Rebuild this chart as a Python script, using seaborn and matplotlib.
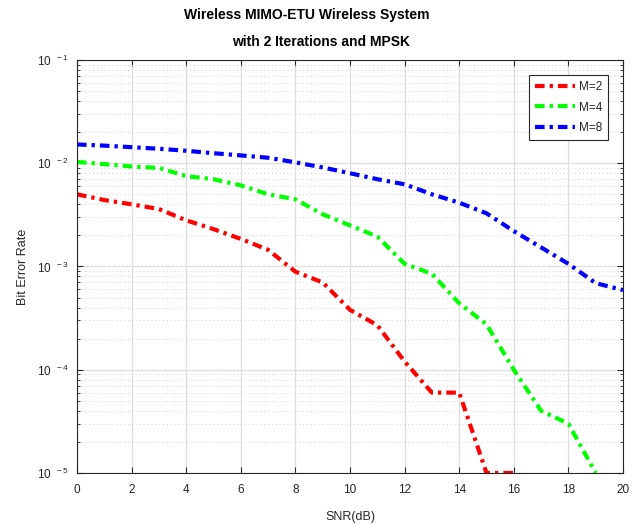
import numpy as np
import pandas as pd
import seaborn as sns
import matplotlib
matplotlib.use("Agg")
import matplotlib.pyplot as plt
from matplotlib.ticker import LogLocator, NullFormatter

# SNR points (dB)
snr = list(range(0, 21))

# bit error rate, one list per modulation order
ber_m2 = [5.0e-3, 4.4e-3, 4.0e-3, 3.6e-3, 2.8e-3, 2.3e-3, 1.85e-3, 1.45e-3,
          8.9e-4, 7.0e-4, 3.8e-4, 2.7e-4, 1.2e-4, 6.0e-5, 6.0e-5, 1.0e-5, 1.0e-5]
ber_m4 = [1.03e-2, 9.8e-3, 9.3e-3, 9.0e-3, 7.5e-3, 7.0e-3, 6.1e-3, 5.0e-3,
          4.47e-3, 3.2e-3, 2.5e-3, 1.95e-3, 1.06e-3, 8.5e-4, 4.4e-4, 2.75e-4,
          1.0e-4, 4.0e-5, 3.0e-5, 1.0e-5]
ber_m8 = [1.52e-2, 1.48e-2, 1.43e-2, 1.38e-2, 1.32e-2, 1.25e-2, 1.19e-2, 1.13e-2,
          1.02e-2, 9.1e-3, 8.0e-3, 7.0e-3, 6.25e-3, 5.0e-3, 4.15e-3, 3.27e-3,
          2.2e-3, 1.53e-3, 1.06e-3, 6.9e-4, 5.9e-4]

labels = ["M=2", "M=4", "M=8"]
colors = ["#ff0000", "#00ff00", "#0000ff"]

df = pd.concat([
    pd.DataFrame({"snr": snr[:len(ber_m2)], "ber": ber_m2, "mod": labels[0]}),
    pd.DataFrame({"snr": snr[:len(ber_m4)], "ber": ber_m4, "mod": labels[1]}),
    pd.DataFrame({"snr": snr[:len(ber_m8)], "ber": ber_m8, "mod": labels[2]}),
])

sns.set_style("ticks")
plt.rcParams["font.family"] = ["Liberation Sans", "DejaVu Sans"]
plt.rcParams["mathtext.fontset"] = "custom"
plt.rcParams["mathtext.rm"] = "Liberation Sans"
plt.rcParams["mathtext.it"] = "Liberation Sans"

fig = plt.figure(figsize=(6.38, 5.26), dpi=100)
ax = fig.add_axes([0.1207, 0.1008, 0.8558, 0.7852])

sns.lineplot(data=df, x="snr", y="ber", hue="mod", style="mod",
             palette=colors, dashes=[(2.3, 1.2, 0.8, 1.2)] * 3, linewidth=3,
             ax=ax, legend=True)

ax.set_yscale("log")
ax.set_xlim(0, 20)
ax.set_ylim(1e-5, 1e-1)
ax.set_xticks(range(0, 21, 2))
ax.set_yticks([1e-5, 1e-4, 1e-3, 1e-2, 1e-1])
ax.set_yticklabels([r"$10^{\ \ -%d}$" % k for k in [5, 4, 3, 2, 1]])
ax.yaxis.set_minor_locator(LogLocator(base=10, subs=np.arange(2, 10), numticks=20))
ax.yaxis.set_minor_formatter(NullFormatter())

ax.grid(True, which="major", color="#dedede", linewidth=0.9, linestyle="-")
ax.grid(True, which="minor", axis="y", color="#cfcfcf", linewidth=0.7,
        linestyle=(0, (1, 3)))
ax.set_axisbelow(True)

ax.tick_params(which="both", direction="in", top=True, right=True,
               labelsize=8.5, colors="#262626", length=4)
ax.tick_params(axis="x", pad=8)
ax.tick_params(axis="y", pad=6)
ax.tick_params(which="minor", length=2.5)
for s in ax.spines.values():
    s.set_color("#262626")
    s.set_linewidth(0.8)

ax.set_xlabel("SNR(dB)", fontsize=9, color="#262626", labelpad=11)
ax.set_ylabel("Bit Error Rate", fontsize=9, color="#262626", labelpad=6)

fig.text(307 / 638, 1 - 15 / 526, "Wireless MIMO-ETU Wireless System",
         ha="center", va="center", fontsize=10, fontweight="bold", color="black")
fig.text(321 / 638, 1 - 42 / 526, "with 2 Iterations and MPSK",
         ha="center", va="center", fontsize=10, fontweight="bold", color="black")

leg = ax.legend(loc="upper right", bbox_to_anchor=(0.9725, 0.964), fontsize=8.5,
                handlelength=3.4, frameon=True, fancybox=False,
                edgecolor="#262626", framealpha=1, labelspacing=0.75,
                borderpad=0.5, handletextpad=0.3, borderaxespad=0)
leg.get_frame().set_linewidth(0.8)

fig.savefig("out.png", dpi=100)
